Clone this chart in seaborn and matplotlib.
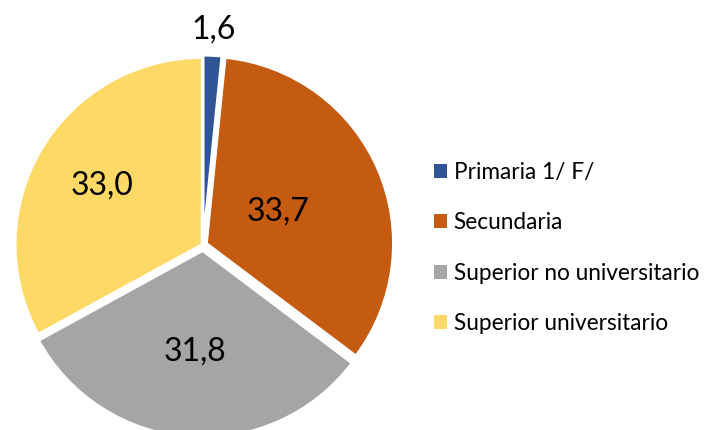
import numpy as np
import matplotlib
matplotlib.use("Agg")
import matplotlib.pyplot as plt
from matplotlib.patches import Patch
import seaborn as sns

categories = ["Primaria 1/ F/", "Secundaria", "Superior no universitario", "Superior universitario"]
values = [1.6, 33.7, 31.8, 33.0]
value_labels = ["1,6", "33,7", "31,8", "33,0"]
colors = ["#2F5597", "#C55A11", "#A5A5A5", "#FFD966"]

sns.set_theme(style="white")
plt.rcParams["font.family"] = ["Lato", "DejaVu Sans"]

fig = plt.figure(figsize=(7.12, 4.30), dpi=100)
ax = fig.add_axes([0, 0, 1, 1])

explode = [0.015, 0.02, 0.03, 0.005]
wedges, _ = ax.pie(values, colors=colors, startangle=90, counterclock=False,
                   explode=explode, radius=1,
                   wedgeprops=dict(edgecolor="white", linewidth=2))

# pie centre and radius in pixels
cx, cy, R = 203, 245, 187
ax.set_aspect("auto")
ax.set_xlim(-cx / R, (712 - cx) / R)
ax.set_ylim(-(430 - cy) / R, cy / R)
ax.axis("off")

# label distance per slice (Excel "best fit" placement)
label_r = [1.14, 0.42, 0.54, 0.62]
for w, txt, r, ex in zip(wedges, value_labels, label_r, explode):
    ang = np.deg2rad((w.theta1 + w.theta2) / 2)
    ax.text((r + ex) * np.cos(ang), (r + ex) * np.sin(ang), txt,
            ha="center", va="center", fontsize=23, color="black")

handles = [Patch(facecolor=c, edgecolor="none") for c in colors]
leg = fig.legend(handles, categories, loc="center left",
                 bbox_to_anchor=(414 / 712, 1 - 248 / 430), frameon=False,
                 fontsize=16.3, handlelength=0.55, handleheight=0.55,
                 handletextpad=0.3, labelspacing=1.3)
for t in leg.get_texts():
    t.set_color("black")

fig.savefig("out.png", dpi=100)
